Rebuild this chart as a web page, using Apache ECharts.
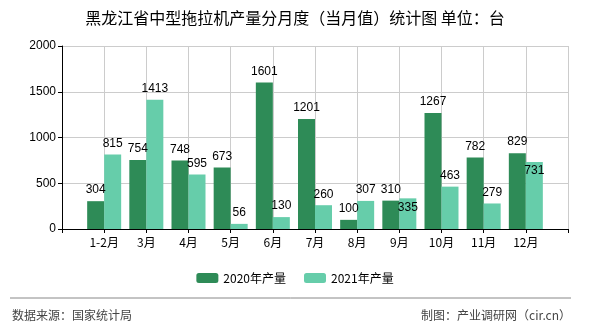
<!DOCTYPE html>
<html>
<head>
<meta charset="utf-8">
<script src="https://cdn.jsdelivr.net/npm/echarts@6/dist/echarts.min.js"></script>
<style>
html,body{margin:0;padding:0;background:#fff;}
#c{width:590px;height:330px;}
</style>
</head>
<body>
<div id="c"></div>
<script>
var title = '黑龙江省中型拖拉机产量分月度（当月值）统计图 单位：台';
var categories = ['1-2月','3月','4月','5月','6月','7月','8月','9月','10月','11月','12月'];
var series2020Name = '2020年产量';
var series2021Name = '2021年产量';
var values2020 = [304, 754, 748, 673, 1601, 1201, 100, 310, 1267, 782, 829];
var values2021 = [815, 1413, 595, 56, 130, 260, 307, 335, 463, 279, 731];
var yTicks = [0, 500, 1000, 1500, 2000];
var sourceText = '数据来源：国家统计局';
var creditText = '制图：产业调研网（cir.cn）';

var FONT = '"Liberation Sans", "Noto Sans CJK SC", sans-serif';
var CJK = '"Noto Sans CJK SC", "Liberation Sans", sans-serif';

// pad the category axis with an empty slot on each side
var axisCats = [''].concat(categories).concat(['']);
function pad(arr, overrides) {
  var out = [null];
  arr.forEach(function (v, i) {
    if (overrides && overrides[i]) {
      out.push({ value: v, label: overrides[i] });
    } else {
      out.push(v);
    }
  });
  out.push(null);
  return out;
}
// labels shifted in the original (overlap avoidance)
var shift2021 = {};
shift2021[7] = { offset: [0, 20] };
shift2021[10] = { offset: [0, 20] };

var labelStyle = {
  show: true, position: 'top', distance: 5,
  color: '#000', fontSize: 12, fontFamily: FONT
};

var chart = echarts.init(document.getElementById('c'), null, { renderer: 'canvas' });
chart.setOption({
  animation: false,
  backgroundColor: '#fff',
  title: {
    text: title, left: 'center', top: 5,
    textStyle: { fontSize: 16, fontWeight: 'normal', color: '#000', fontFamily: CJK }
  },
  legend: {
    top: 267, left: 'center',
    itemWidth: 22, itemHeight: 10, itemGap: 18,
    textStyle: { fontSize: 12, color: '#000', fontFamily: CJK },
    data: [series2020Name, series2021Name]
  },
  grid: { left: 62, right: 22, top: 46, bottom: 101, containLabel: false },
  xAxis: {
    type: 'category', data: axisCats, boundaryGap: false,
    axisLine: { lineStyle: { color: '#000', width: 1 } },
    axisTick: { show: true, length: 4, lineStyle: { color: '#000' } },
    axisLabel: { color: '#000', fontSize: 12, fontFamily: CJK, margin: 7, interval: 0 },
    splitLine: { show: true, lineStyle: { color: '#cccccc', width: 1 } }
  },
  yAxis: {
    type: 'value', min: yTicks[0], max: yTicks[yTicks.length - 1], interval: yTicks[1] - yTicks[0],
    axisLine: { show: true, lineStyle: { color: '#000', width: 1 } },
    axisTick: { show: true, length: 4, lineStyle: { color: '#000' } },
    axisLabel: { color: '#000', fontSize: 12, fontFamily: FONT, margin: 6,
      formatter: function (v) { return String(v); } },
    splitLine: { show: true, lineStyle: { color: '#cccccc', width: 1 } }
  },
  series: [
    {
      name: series2020Name, type: 'bar', data: pad(values2020),
      barWidth: 17, barGap: '0%',
      itemStyle: { color: '#2E8B57' },
      label: labelStyle
    },
    {
      name: series2021Name, type: 'bar', data: pad(values2021, shift2021),
      barWidth: 17, barGap: '0%',
      itemStyle: { color: '#66CDAA' },
      label: labelStyle
    }
  ],
  graphic: [
    { type: 'line', shape: { x1: 10, y1: 298, x2: 571, y2: 298 }, style: { stroke: '#888', lineWidth: 1 } },
    { type: 'text', left: 12, top: 309, style: { text: sourceText, fill: '#444', fontSize: 12, fontFamily: CJK } },
    { type: 'text', right: 19, top: 309, style: { text: creditText, fill: '#444', fontSize: 12, fontFamily: CJK } }
  ]
});
</script>
</body>
</html>
